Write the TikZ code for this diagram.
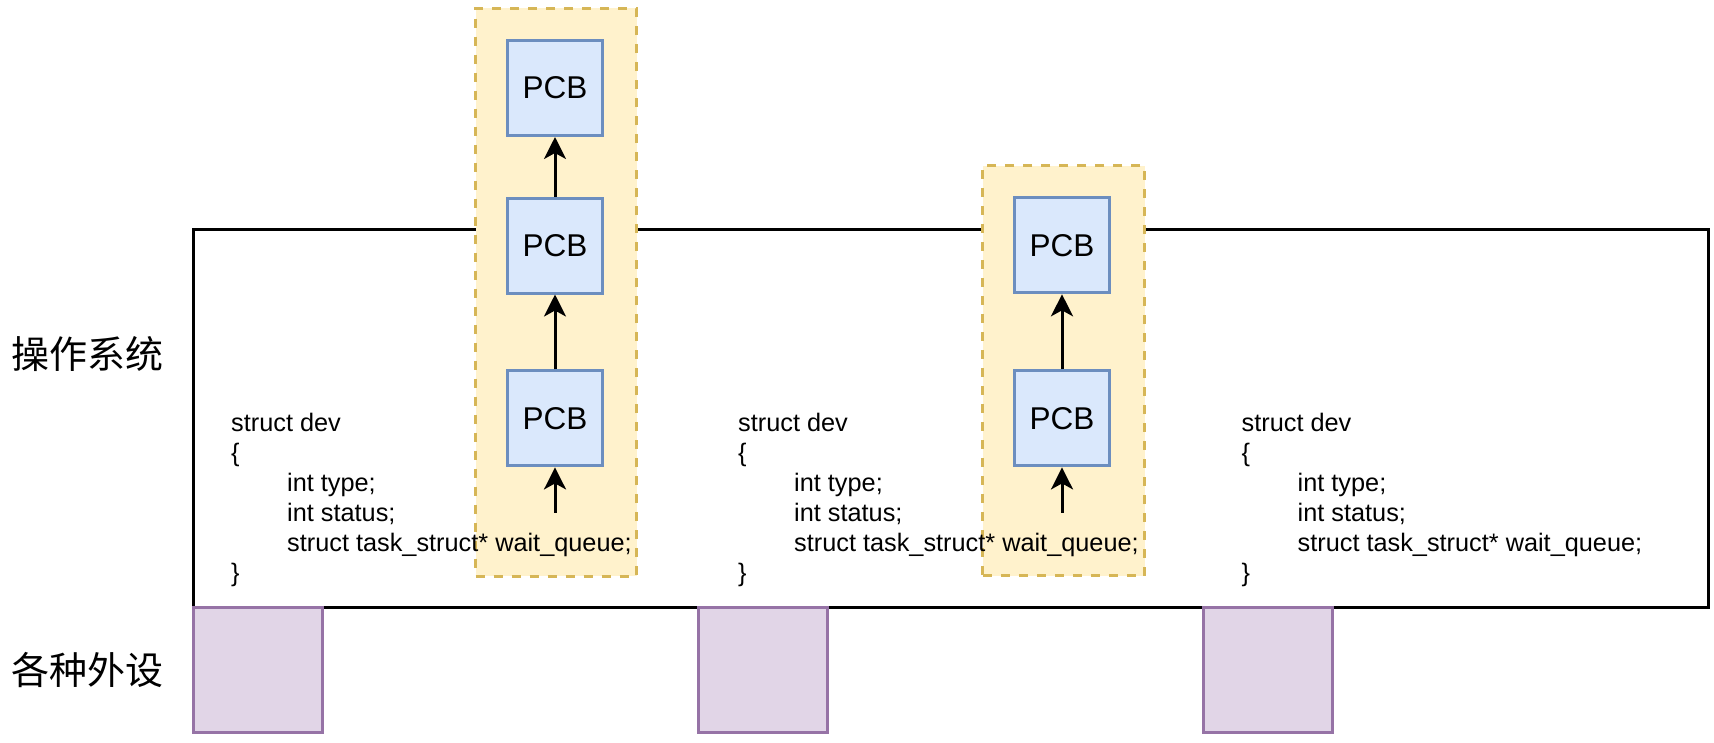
\documentclass[tikz,border=0pt]{standalone}
\usepackage{fontspec}
\setmainfont{Liberation Sans}
\newfontfamily\cjkfont{Noto Sans CJK SC}
\usetikzlibrary{arrows.meta}
\definecolor{qfill}{HTML}{FFF2CC}
\definecolor{qstroke}{HTML}{D6B656}
\definecolor{pcbfill}{HTML}{DAE8FC}
\definecolor{pcbstroke}{HTML}{6C8EBF}
\definecolor{devfill}{HTML}{E1D5E7}
\definecolor{devstroke}{HTML}{9673A6}
\newcommand{\devcode}{\vtop{\hbox{struct dev}\hbox{\{}\hbox{\kern56pt int type;}\hbox{\kern56pt int status;}\hbox{\kern56pt struct task\_struct* wait\_queue;}\hbox{\}}}}
\begin{document}
\begin{tikzpicture}[x=1pt,y=-1pt,
  osbox/.style={draw=black,line width=3.2pt,minimum width=1514.8pt,minimum height=378.3pt,inner sep=0pt,outer sep=0pt},
  queuebox/.style={draw=qstroke,fill=qfill,line width=3pt,dash pattern=on 9pt off 9pt,inner sep=0pt,outer sep=0pt},
  pcbbox/.style={draw=pcbstroke,fill=pcbfill,line width=3pt,minimum width=95pt,minimum height=95pt,inner sep=0pt,font=\fontsize{31.5}{36}\selectfont},
  devbox/.style={draw=devstroke,fill=devfill,line width=3pt,minimum width=128.5pt,minimum height=125.3pt,inner sep=0pt,outer sep=0pt},
  code/.style={inner sep=0pt,anchor=base west,font=\fontsize{25.3}{30}\selectfont},
  sidelabel/.style={font=\cjkfont\fontsize{38}{40}\selectfont,inner sep=0pt,anchor=base west},
  link/.style={line width=3pt,-{Stealth[length=22pt,width=22pt,inset=6pt]}}
]
\useasboundingbox (0,0) rectangle (1714,742);
% operating system frame
\node[osbox] (os) at (951.1,418.65) {};
% wait queues
\node[queuebox,minimum width=161pt,minimum height=567.7pt] (q1) at (556,292.15) {};
\node[queuebox,minimum width=161.7pt,minimum height=410.1pt] (q2) at (1063.65,370.75) {};
% code blocks
\node[code] (c1) at (231,431) {\devcode};
\node[code] (c2) at (738,431) {\devcode};
\node[code] (c3) at (1241.5,431) {\devcode};
% PCBs
\node[pcbbox] (p11) at (555,88) {PCB};
\node[pcbbox] (p12) at (555,245.5) {PCB};
\node[pcbbox] (p13) at (555,418.4) {PCB};
\node[pcbbox] (p22) at (1062,245.3) {PCB};
\node[pcbbox] (p23) at (1062,418.4) {PCB};
\coordinate (s1) at (555,512.7);
\coordinate (s2) at (1062,512.7);
\draw[link] (s1) -- (p13);
\draw[link] (p13) -- (p12);
\draw[link] (p12) -- (p11);
\draw[link] (s2) -- (p23);
\draw[link] (p23) -- (p22);
% devices
\node[devbox] (d1) at (257.75,670.15) {};
\node[devbox] (d2) at (762.75,670.15) {};
\node[devbox] (d3) at (1267.75,670.15) {};
% side labels
\node[sidelabel] (oslabel) at (11,368.5) {操作系统};
\node[sidelabel] (devlabel) at (11,684) {各种外设};
\end{tikzpicture}
\end{document}
